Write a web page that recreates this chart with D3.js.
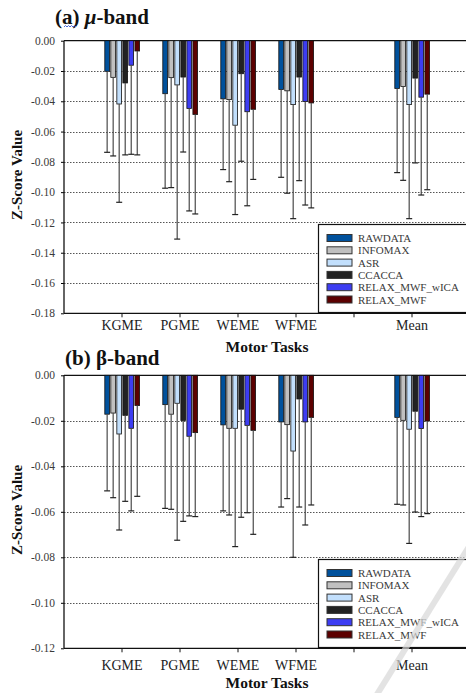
<!DOCTYPE html>
<html lang="en">
<head>
<meta charset="UTF-8">
<title>Z-Score by motor task</title>
<script src="https://d3js.org/d3.v7.min.js"></script>
<style>
  body { margin: 0; background: #fff; }
  .grid { stroke: #555; stroke-width: 1; stroke-dasharray: 1.5,1.5; }
</style>
</head>
<body>
<div id="chart"></div>
<script>
var methods = ["RAWDATA", "INFOMAX", "ASR", "CCACCA", "RELAX_MWF_wICA", "RELAX_MWF"];
var colors  = ["#00519c", "#c0c0c0", "#c2dffc", "#222222", "#3d3df2", "#5c0000"];
var tasks = ["KGME", "PGME", "WEME", "WFME", "Mean"];
var slots = ["start", "KGME", "PGME", "WEME", "WFME", "gap", "Mean", "end"];

// mu band: mean z-score per method (rows) and task (cols), and SD
var muMeans = [
  [-0.0202, -0.0350, -0.0384, -0.0322, -0.0316],
  [-0.0242, -0.0244, -0.0389, -0.0331, -0.0302],
  [-0.0418, -0.0292, -0.0558, -0.0422, -0.0422],
  [-0.0279, -0.0240, -0.0218, -0.0240, -0.0247],
  [-0.0162, -0.0447, -0.0469, -0.0402, -0.0373],
  [-0.0068, -0.0487, -0.0453, -0.0411, -0.0353]
];
var muSD = [
  [0.0535, 0.0624, 0.0467, 0.0580, 0.0555],
  [0.0519, 0.0726, 0.0542, 0.0676, 0.0620],
  [0.0649, 0.1018, 0.0590, 0.0753, 0.0753],
  [0.0475, 0.0495, 0.0578, 0.0684, 0.0560],
  [0.0588, 0.0677, 0.0621, 0.0683, 0.0646],
  [0.0686, 0.0657, 0.0463, 0.0693, 0.0631]
];
var muTicks = [0, -0.02, -0.04, -0.06, -0.08, -0.10, -0.12, -0.14, -0.16, -0.18];

// beta band
var betaMeans = [
  [-0.0171, -0.0129, -0.0218, -0.0205, -0.0185],
  [-0.0166, -0.0171, -0.0233, -0.0217, -0.0198],
  [-0.0258, -0.0123, -0.0233, -0.0333, -0.0237],
  [-0.0176, -0.0199, -0.0149, -0.0104, -0.0158],
  [-0.0233, -0.0268, -0.0220, -0.0205, -0.0234],
  [-0.0133, -0.0252, -0.0242, -0.0185, -0.0201]
];
var betaSD = [
  [0.0337, 0.0456, 0.0378, 0.0374, 0.0382],
  [0.0372, 0.0418, 0.0381, 0.0325, 0.0372],
  [0.0422, 0.0602, 0.0520, 0.0467, 0.0502],
  [0.0378, 0.0443, 0.0475, 0.0475, 0.0443],
  [0.0363, 0.0350, 0.0384, 0.0453, 0.0387],
  [0.0399, 0.0369, 0.0457, 0.0385, 0.0407]
];
var betaTicks = [0, -0.02, -0.04, -0.06, -0.08, -0.10, -0.12];

var FONT = "Liberation Serif";
var W = 466, H = 693;
var svg = d3.select("#chart").append("svg")
    .attr("width", W).attr("height", H)
    .attr("font-family", FONT);

var x = d3.scalePoint().domain(slots).range([64, 470]);
var xm = d3.scaleBand().domain(methods).range([-17.2, 17.6]).paddingInner(0.22);
var fmt = function(d) { return d3.format(".2f")(d).replace("\u2212", "-"); };

function label(sel) {
    return sel.append("text").attr("font-family", FONT);
}

function drawPanel(o) {
    var g = svg.append("g");
    var ymin = d3.min(o.ticks);
    var y = d3.scaleLinear().domain([ymin, 0]).range([o.bottom, o.top]);

    // dotted gridlines
    g.selectAll(".grid").data(o.ticks.filter(function(t) { return t !== 0 && t !== ymin; }))
        .enter().append("line").attr("class", "grid")
        .attr("x1", 64).attr("x2", W)
        .attr("y1", function(d) { return Math.round(y(d)) + 0.5; })
        .attr("y2", function(d) { return Math.round(y(d)) + 0.5; });

    // y axis labels + ticks
    var ya = g.append("g").attr("transform", "translate(64,0)")
        .call(d3.axisLeft(y).tickValues(o.ticks).tickSize(3).tickFormat(fmt));
    ya.attr("font-family", FONT).attr("font-size", 11.5);
    ya.select(".domain").remove();
    ya.selectAll(".tick line").attr("stroke", "#000");
    ya.selectAll(".tick text").attr("x", -9).attr("fill", "#3a3a3a");

    // frame lines
    g.append("line").attr("x1", 64).attr("x2", W).attr("y1", y(0)).attr("y2", y(0))
        .attr("stroke", "#111").attr("stroke-width", 1.3);
    g.append("line").attr("x1", 64).attr("x2", W).attr("y1", y(ymin)).attr("y2", y(ymin))
        .attr("stroke", "#111").attr("stroke-width", 1.3);
    g.append("line").attr("x1", 64).attr("x2", 64).attr("y1", y(0)).attr("y2", y(ymin))
        .attr("stroke", "#111").attr("stroke-width", 1.3);

    // x ticks & labels
    var xt = slots.slice(1, 7);
    g.selectAll(".xtick").data(xt).enter().append("line")
        .attr("x1", function(d) { return x(d); }).attr("x2", function(d) { return x(d); })
        .attr("y1", y(ymin)).attr("y2", y(ymin) + 4)
        .attr("stroke", "#111");
    g.selectAll(".xlab").data(tasks).enter().append("text")
        .attr("font-family", FONT)
        .attr("x", function(d) { return x(d); }).attr("y", o.xLabelY)
        .attr("text-anchor", "middle").attr("font-size", 14).attr("fill", "#222")
        .text(function(d) { return d; });

    // bars
    methods.forEach(function(m, i) {
        var rows = tasks.map(function(t, j) { return { task: t, v: o.means[i][j], sd: o.sd[i][j] }; });
        var bg = g.append("g");
        bg.selectAll("rect").data(rows).enter().append("rect")
            .attr("x", function(d) { return x(d.task) + xm(m); })
            .attr("width", xm.bandwidth())
            .attr("y", y(0))
            .attr("height", function(d) { return y(d.v) - y(0); })
            .attr("fill", colors[i]).attr("stroke", "#111").attr("stroke-width", 0.8);
        var cx = function(d) { return x(d.task) + xm(m) + xm.bandwidth() / 2; };
        bg.selectAll(".err").data(rows).enter().append("line")
            .attr("x1", cx).attr("x2", cx)
            .attr("y1", function(d) { return y(d.v); })
            .attr("y2", function(d) { return y(d.v - d.sd); })
            .attr("stroke", "#4a4a4a").attr("stroke-width", 1.2);
        bg.selectAll(".cap").data(rows).enter().append("line")
            .attr("x1", function(d) { return cx(d) - 3; }).attr("x2", function(d) { return cx(d) + 3; })
            .attr("y1", function(d) { return y(d.v - d.sd); })
            .attr("y2", function(d) { return y(d.v - d.sd); })
            .attr("stroke", "#222").attr("stroke-width", 1.2);
    });

    // legend
    var lg = g.append("g");
    lg.append("rect").attr("x", 318.5).attr("y", o.legendY).attr("width", 160).attr("height", 88)
        .attr("fill", "#fff").attr("stroke", "#111").attr("stroke-width", 1.2);
    methods.forEach(function(m, i) {
        var cy = o.legendY + 13.5 + i * 12.3;
        lg.append("rect").attr("x", 327).attr("y", cy - 3.5).attr("width", 25).attr("height", 7)
            .attr("fill", colors[i]).attr("stroke", "#333").attr("stroke-width", 1);
        label(lg).attr("x", 358).attr("y", cy + 4)
            .attr("font-size", 11).attr("fill", "#3a3a3a").text(m);
    });

    // axis titles
    label(g).attr("x", 267).attr("y", o.xTitleY).attr("text-anchor", "middle")
        .attr("font-size", 15.5).attr("font-weight", "bold").attr("fill", "#111").text("Motor Tasks");
    label(g).attr("transform", "translate(22," + o.yTitleY + ") rotate(-90)")
        .attr("text-anchor", "middle").attr("font-size", 15).attr("font-weight", "bold")
        .attr("fill", "#111").text("Z-Score Value");

    // panel title
    var t = label(g).attr("x", o.titleX).attr("y", o.titleY)
        .attr("font-size", 21).attr("font-weight", "bold").attr("fill", "#111");
    t.append("tspan").text("(" + o.letter + ") ");
    t.append("tspan").attr("font-style", o.italic ? "italic" : "normal").text(o.sym);
    t.append("tspan").text("-band");
}

drawPanel({ means: muMeans, sd: muSD, ticks: muTicks, top: 40.7, bottom: 313.3,
    legendY: 224.5, xLabelY: 330, xTitleY: 352, yTitleY: 175,
    titleX: 55, titleY: 24, letter: "a", sym: "\u03bc", italic: true });
drawPanel({ means: betaMeans, sd: betaSD, ticks: betaTicks, top: 375.3, bottom: 648.3,
    legendY: 559.5, xLabelY: 670, xTitleY: 688, yTitleY: 510,
    titleX: 65, titleY: 365, letter: "b", sym: "\u03b2", italic: false });

// spell-check squiggle under the "a"
svg.append("path")
    .attr("d", "M64,27 l1.5,-1.5 l1.5,1.5 l1.5,-1.5 l1.5,1.5 l1.5,-1.5 l1.5,1.5 l1.5,-1.5 l1.5,1.5")
    .attr("fill", "none").attr("stroke", "#4a6ad8").attr("stroke-width", 1);

// faint diagonal watermark stripe
svg.append("line").attr("x1", 470).attr("y1", 545).attr("x2", 376).attr("y2", 696)
    .attr("stroke", "#d8d8d8").attr("stroke-width", 6).attr("opacity", 0.7);
</script>
</body>
</html>
